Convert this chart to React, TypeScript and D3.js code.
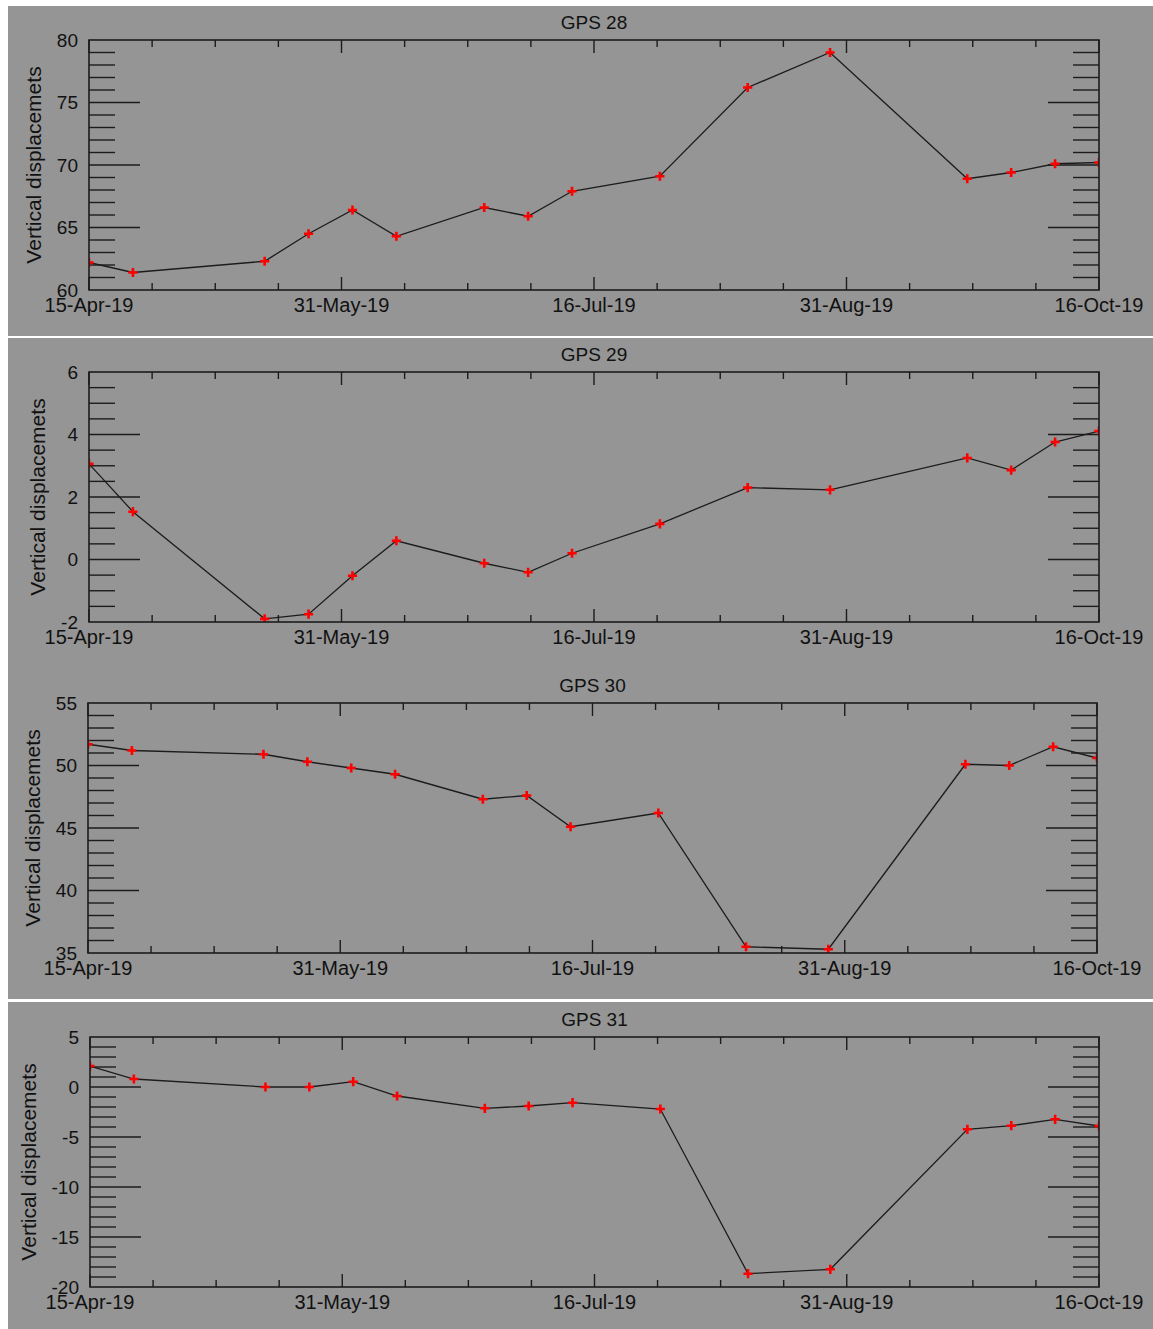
import React, { useEffect, useRef } from 'react';
import * as d3 from 'd3';

// acquisition dates shared by every station
const dates = [
  '2019-04-15', '2019-04-23', '2019-05-17', '2019-05-25', '2019-06-02', '2019-06-10',
  '2019-06-26', '2019-07-04', '2019-07-12', '2019-07-28', '2019-08-13', '2019-08-28',
  '2019-09-22', '2019-09-30', '2019-10-08', '2019-10-16',
];

const gps28 = [62.2, 61.4, 62.3, 64.5, 66.4, 64.3, 66.6, 65.9, 67.9, 69.1, 76.2, 79.0, 68.9, 69.4, 70.1, 70.2];
const gps29 = [3.06, 1.53, -1.9, -1.75, -0.52, 0.6, -0.12, -0.41, 0.2, 1.14, 2.3, 2.23, 3.25, 2.86, 3.76, 4.11];
const gps30 = [51.7, 51.2, 50.9, 50.3, 49.8, 49.3, 47.3, 47.6, 45.1, 46.2, 35.5, 35.3, 50.1, 50.0, 51.5, 50.6];
const gps31 = [2.1, 0.8, 0.0, 0.0, 0.53, -0.9, -2.13, -1.9, -1.57, -2.2, -18.67, -18.23, -4.23, -3.87, -3.23, -3.9];

const titles = ['GPS 28', 'GPS 29', 'GPS 30', 'GPS 31'];
const series = [gps28, gps29, gps30, gps31];
const yDomains = [[60, 80], [-2, 6], [35, 55], [-20, 5]];
const yMajorSteps = [5, 2, 5, 5];
const yMinorSteps = [1, 0.5, 1, 1];

const W = 1153;
const H = 1329;
const FONT = '"Liberation Sans", Arial, Helvetica, sans-serif';
const BG = '#959595';
const INK = '#1c1c1c';

// plot boxes for each panel
const boxes = [
  { left: 89, right: 1099, top: 40, bottom: 290 },
  { left: 89, right: 1099, top: 372, bottom: 622 },
  { left: 88, right: 1097, top: 703, bottom: 953 },
  { left: 90, right: 1099, top: 1037, bottom: 1287 },
];
// grey backgrounds (panels 2 and 3 share one)
const bands = [
  [6, 336],
  [338, 999],
  [1002, 1329],
];

function labelWidth(s: string, size: number) {
  let w = 0;
  for (const c of s) w += c === '-' ? 0.333 : c === '.' ? 0.278 : 0.556;
  return w * size;
}

export default function App() {
  const ref = useRef<SVGSVGElement>(null);

  useEffect(() => {
    if (!ref.current) return;
    const svg = d3.select(ref.current);
    svg.selectAll('*').remove();

    const parse = d3.utcParse('%Y-%m-%d');
    const xs = dates.map(d => parse(d) as Date);
    const fmt = d3.utcFormat('%d-%b-%y');

    svg.append('rect').attr('width', W).attr('height', H).attr('fill', '#fff');
    bands.forEach(([y0, y1]) => {
      svg.append('rect')
        .attr('x', 8).attr('y', y0)
        .attr('width', W - 8).attr('height', y1 - y0)
        .attr('fill', BG);
    });

    series.forEach((vals, i) => {
      const b = boxes[i];
      const x = d3.scaleUtc().domain([xs[0], xs[xs.length - 1]]).range([b.left, b.right]);
      const y = d3.scaleLinear().domain(yDomains[i]).range([b.bottom, b.top]);
      const g = svg.append('g');

      const clipId = `clip${i}`;
      svg.append('clipPath').attr('id', clipId)
        .append('rect')
        .attr('x', b.left).attr('y', b.top)
        .attr('width', b.right - b.left).attr('height', b.bottom - b.top);

      // x ticks: 4 major intervals, 4 minor per interval
      const [d0, d1] = x.domain();
      const span = +d1 - +d0;
      const minorX = d3.range(17).map(k => new Date(+d0 + (k * span) / 16));
      minorX.forEach((d, k) => {
        const px = x(d);
        const len = k % 4 === 0 ? 13 : 7;
        g.append('line').attr('x1', px).attr('x2', px).attr('y1', b.top).attr('y2', b.top + len)
          .attr('stroke', INK).attr('stroke-width', 1.4);
        g.append('line').attr('x1', px).attr('x2', px).attr('y1', b.bottom).attr('y2', b.bottom - len)
          .attr('stroke', INK).attr('stroke-width', 1.4);
        if (k % 4 === 0) {
          g.append('text').attr('x', px).attr('y', b.bottom + 22)
            .attr('text-anchor', 'middle').attr('font-size', 20)
            .attr('font-family', FONT).attr('fill', '#111')
            .text(fmt(d));
        }
      });

      // y ticks
      const [lo, hi] = yDomains[i];
      const major = yMajorSteps[i];
      const minor = yMinorSteps[i];
      const yTicks = d3.range(lo, hi + minor / 2, minor);
      let maxLab = 0;
      yTicks.forEach(v => {
        const py = y(v);
        const isMajor = Math.abs(v / major - Math.round(v / major)) < 1e-6;
        const len = isMajor ? 51 : 26;
        if (v !== lo && v !== hi) {
          g.append('line').attr('x1', b.left).attr('x2', b.left + len).attr('y1', py).attr('y2', py)
            .attr('stroke', INK).attr('stroke-width', 1.4);
          g.append('line').attr('x1', b.right).attr('x2', b.right - len).attr('y1', py).attr('y2', py)
            .attr('stroke', INK).attr('stroke-width', 1.4);
        }
        if (isMajor) {
          const s = String(v);
          maxLab = Math.max(maxLab, labelWidth(s, 19));
          g.append('text').attr('x', b.left - 11).attr('y', py).attr('dy', '0.35em')
            .attr('text-anchor', 'end').attr('font-size', 19)
            .attr('font-family', FONT).attr('fill', '#111')
            .text(s);
        }
      });

      // axis label and title
      const lx = b.left - 11 - maxLab - 23;
      const ly = (b.top + b.bottom) / 2;
      g.append('text')
        .attr('transform', `translate(${lx},${ly}) rotate(-90)`)
        .attr('dy', '0.35em').attr('text-anchor', 'middle')
        .attr('font-size', 21).attr('font-family', FONT).attr('fill', '#111')
        .text('Vertical displacemets');
      g.append('text')
        .attr('x', (b.left + b.right) / 2).attr('y', b.top - 11)
        .attr('text-anchor', 'middle').attr('font-size', 19)
        .attr('font-family', FONT).attr('fill', '#111')
        .text(titles[i]);

      // data
      const pts = vals.map((v, k) => ({ d: xs[k], v }));
      const line = d3.line<{ d: Date; v: number }>().x(p => x(p.d)).y(p => y(p.v));
      const data = g.append('g').attr('clip-path', `url(#${clipId})`);
      data.append('path').datum(pts)
        .attr('d', line).attr('fill', 'none')
        .attr('stroke', INK).attr('stroke-width', 1.3);
      data.selectAll('path.mark').data(pts).join('path')
        .attr('class', 'mark')
        .attr('d', p => {
          const cx = x(p.d), cy = y(p.v), r = 4.6;
          return `M${cx - r},${cy}H${cx + r}M${cx},${cy - r}V${cy + r}`;
        })
        .attr('stroke', '#ff0000').attr('stroke-width', 2.6);

      // box
      g.append('rect')
        .attr('x', b.left).attr('y', b.top)
        .attr('width', b.right - b.left).attr('height', b.bottom - b.top)
        .attr('fill', 'none').attr('stroke', INK).attr('stroke-width', 1.6);
    });
  }, []);

  return (
    <svg
      ref={ref}
      width={W}
      height={H}
      style={{ position: 'absolute', left: 0, top: 0, display: 'block' }}
    />
  );
}
